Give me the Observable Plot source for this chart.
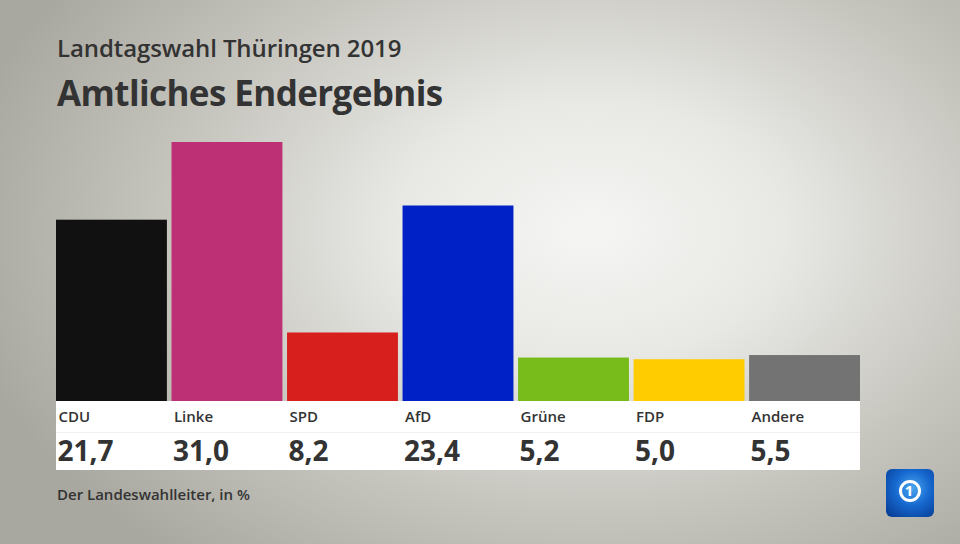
<!DOCTYPE html>
<html>
<head>
<meta charset="utf-8">
<script src="https://cdn.jsdelivr.net/npm/d3@7"></script>
<script src="https://cdn.jsdelivr.net/npm/@observablehq/plot@0.6"></script>
<style>
  html, body { margin: 0; padding: 0; }
  #page {
    position: relative; width: 960px; height: 544px; overflow: hidden;
    background: radial-gradient(ellipse 640px 430px at 590px 230px, #f5f5f3 0%, #e8e8e5 30%, #c6c5be 65%, #a9a8a0 100%);
    font-family: "Open Sans", sans-serif; color: #333;
  }
  .t { position: absolute; left: 57px; white-space: nowrap; font-weight: 600; }
  #sup { top: 31px; font-size: 24px; letter-spacing: -0.1px; }
  #title { top: 69px; font-size: 35px; font-weight: 700; letter-spacing: -0.6px; }
  #cap { top: 484px; font-size: 15px; letter-spacing: 0; }
  #panel { position: absolute; left: 56px; top: 401px; width: 804px; height: 69px; background: #fff; }
  #panel .sep { position: absolute; left: 0; right: 0; top: 31px; height: 1px; background: #f0f0f0; }
  #chart { position: absolute; left: 0; top: 0; }
  #logo { position: absolute; left: 886px; top: 469px; width: 48px; height: 48px; border-radius: 6px;
    background: radial-gradient(circle at 55% 40%, #4aa6ef 0%, #1668cf 45%, #06378c 100%); overflow: hidden; }
  #logo .ring { position: absolute; left: 13px; top: 11px; width: 16px; height: 16px; border: 3px solid #fff; border-radius: 50%; }
  #logo .one { position: absolute; left: 15px; top: 10px; width: 16px; text-align: center; font: 700 15px "Open Sans", sans-serif; color: #fff; line-height: 22px; }
</style>
</head>
<body>
<div id="page">
  <div id="panel"><div class="sep"></div></div>
  <div id="chart"></div>
  <div class="t" id="sup">Landtagswahl Thüringen 2019</div>
  <div class="t" id="title">Amtliches Endergebnis</div>
  <div class="t" id="cap">Der Landeswahlleiter, in %</div>
  <div id="logo"><div class="ring"></div><div class="one">1</div></div>
</div>
<script>
const parties = ["CDU", "Linke", "SPD", "AfD", "Grüne", "FDP", "Andere"];
const values = [21.7, 31.0, 8.2, 23.4, 5.2, 5.0, 5.5];
const colors = ["#111111", "#be3075", "#d71f1d", "#0021c6", "#78bc1b", "#ffcc00", "#737373"];

const data = parties.map((p, i) => ({party: p, value: values[i], color: colors[i]}));
const fmt = v => v.toFixed(1).replace(".", ",");

const bw = 111; // approx band width in px
const chart = Plot.plot({
  width: 960,
  height: 544,
  marginLeft: 56,
  marginRight: 100,
  marginTop: 142,
  marginBottom: 143,
  style: {background: "transparent", fontFamily: "'Open Sans', sans-serif", overflow: "visible"},
  x: {domain: parties, paddingInner: 0.04, paddingOuter: 0, round: false, axis: null},
  y: {domain: [0, 31], axis: null},
  color: {domain: parties, range: colors},
  marks: [
    Plot.barY(data, {x: "party", y: "value", fill: "party"}),
    Plot.text(data, {x: "party", y: 0, text: "party", textAnchor: "start", dx: -bw / 2 + 2, dy: 16,
      fontSize: 15, fontWeight: 600, fill: "#333"}),
    Plot.text(data, {x: "party", y: 0, text: d => fmt(d.value), textAnchor: "start", dx: -bw / 2 + 1, dy: 51,
      fontSize: 28, fontWeight: 700, fill: "#333"})
  ]
});
document.getElementById("chart").appendChild(chart);
</script>
</body>
</html>
